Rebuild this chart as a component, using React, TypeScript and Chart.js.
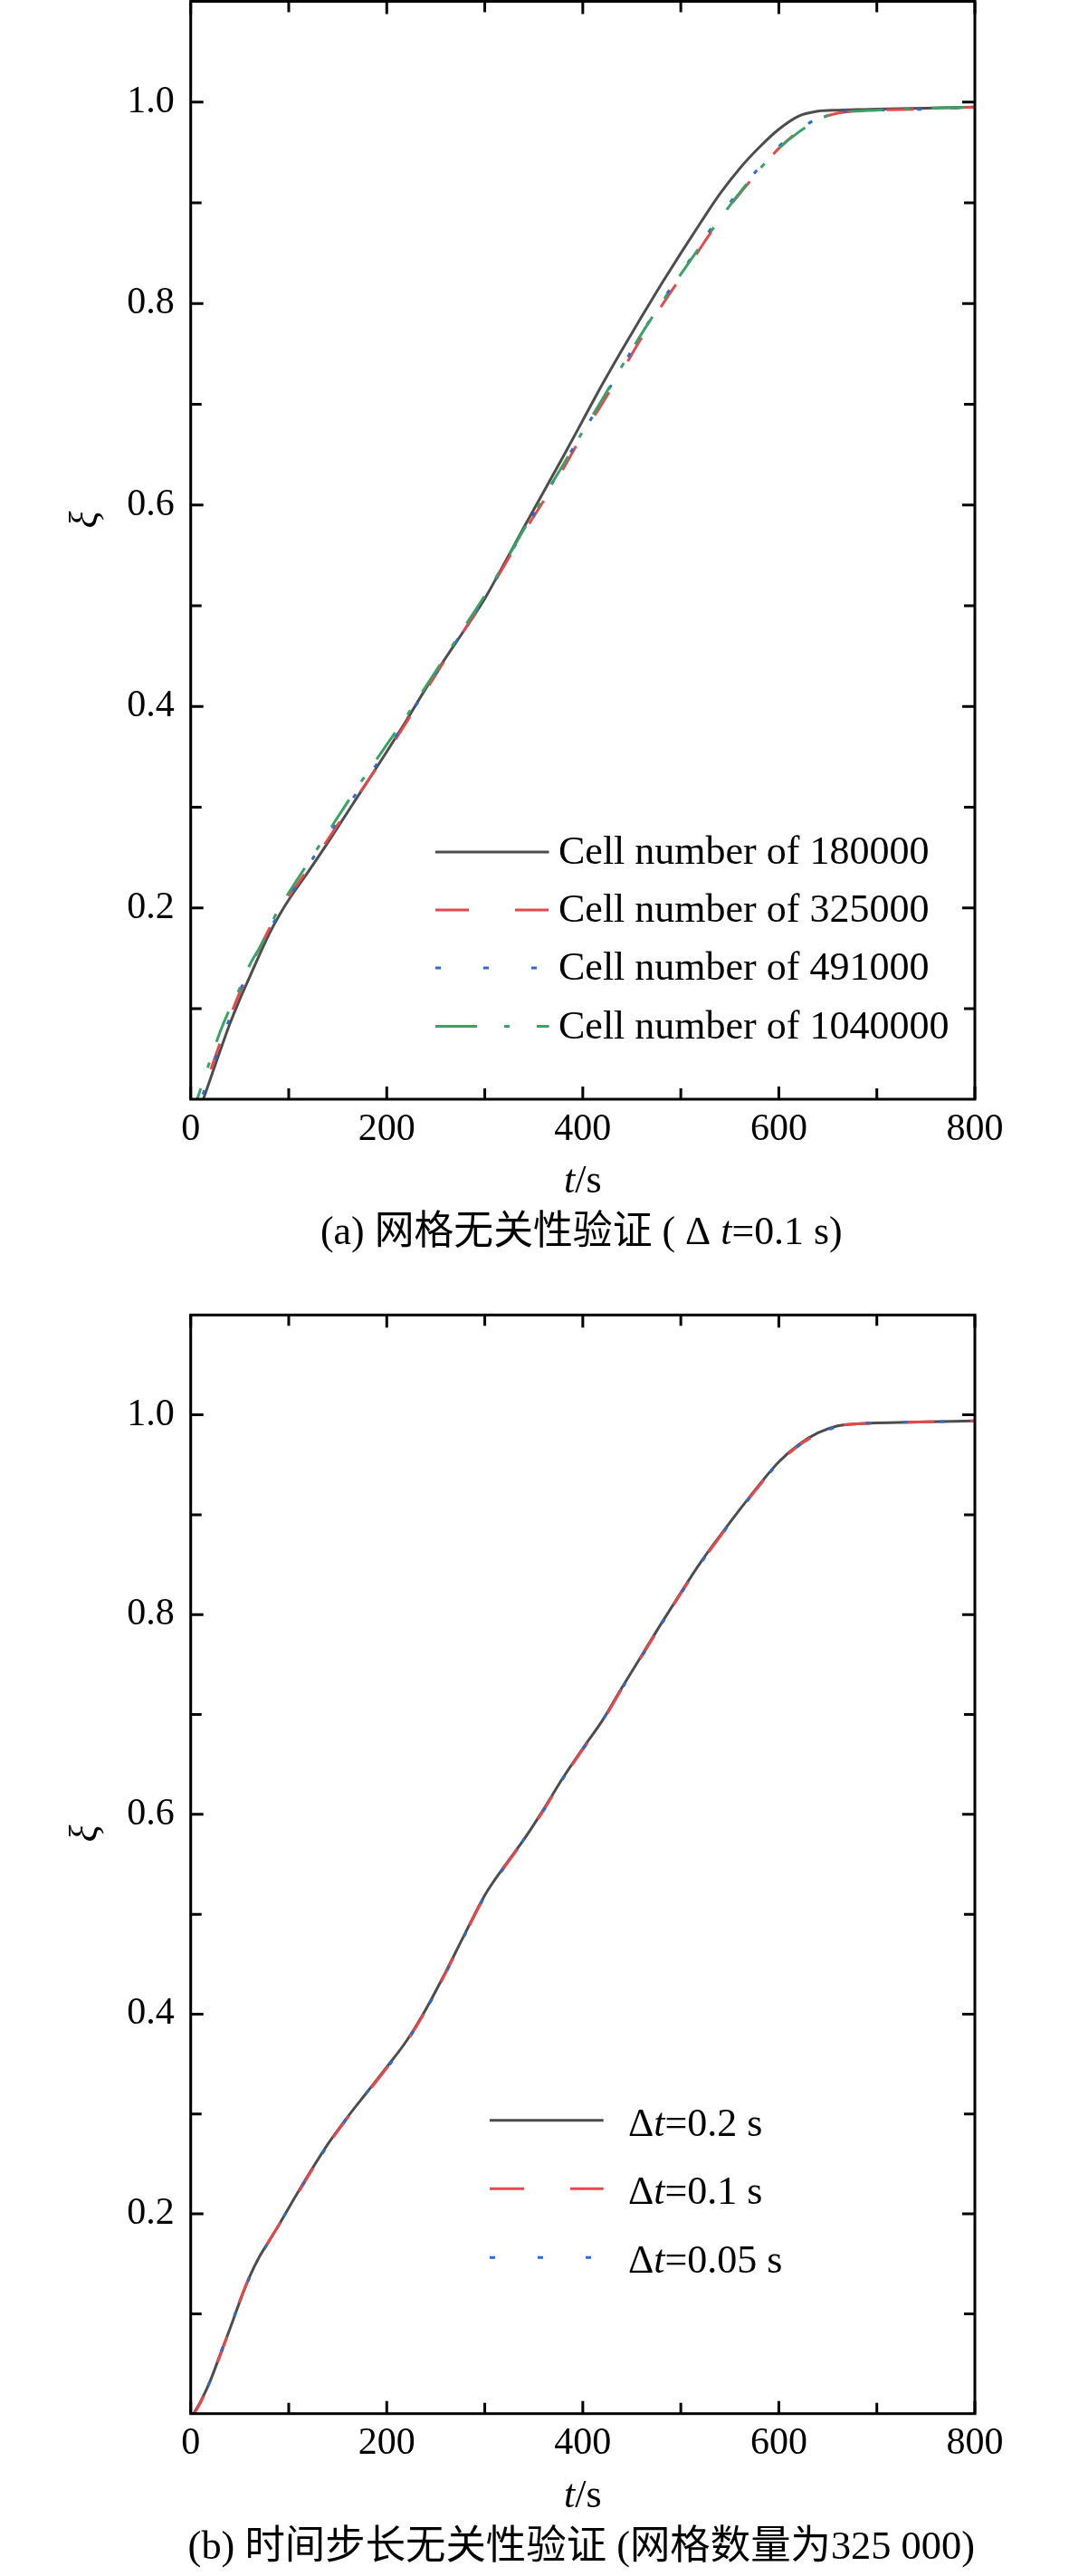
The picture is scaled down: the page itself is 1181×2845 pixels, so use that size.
import React, { useEffect, useRef } from "react";
import { Chart, registerables } from "chart.js";
Chart.register(...registerables);

// ---------- data ----------
const tValues = [0, 10, 20, 30, 40, 50, 60, 70, 80, 90, 100, 120, 140, 160, 180, 200, 220, 240, 260, 280, 300, 320, 340, 360, 380, 400, 420, 440, 460, 480, 500, 520, 540, 560, 580, 600, 620, 640, 660, 680, 700, 750, 800];

// (a) grid independence
const cell180000 = [-0.026, 0.002, 0.03, 0.058, 0.085, 0.109, 0.131, 0.153, 0.174, 0.192, 0.208, 0.236, 0.265, 0.295, 0.325, 0.355, 0.386, 0.418, 0.448, 0.477, 0.507, 0.542, 0.578, 0.613, 0.648, 0.684, 0.72, 0.754, 0.787, 0.819, 0.85, 0.88, 0.909, 0.934, 0.955, 0.973, 0.986, 0.991, 0.992, 0.9925, 0.993, 0.994, 0.995];
const cell325000 = [-0.02, 0.008, 0.038, 0.066, 0.092, 0.116, 0.138, 0.159, 0.179, 0.196, 0.211, 0.239, 0.268, 0.297, 0.325, 0.354, 0.384, 0.416, 0.447, 0.477, 0.507, 0.54, 0.573, 0.604, 0.636, 0.67, 0.701, 0.733, 0.766, 0.797, 0.826, 0.855, 0.884, 0.909, 0.932, 0.954, 0.971, 0.983, 0.989, 0.991, 0.992, 0.993, 0.995];
const cell491000 = [-0.02, 0.008, 0.036, 0.064, 0.091, 0.117, 0.14, 0.16, 0.178, 0.194, 0.21, 0.242, 0.272, 0.301, 0.329, 0.357, 0.386, 0.417, 0.448, 0.478, 0.508, 0.541, 0.575, 0.607, 0.64, 0.672, 0.704, 0.737, 0.77, 0.801, 0.83, 0.859, 0.887, 0.912, 0.935, 0.956, 0.972, 0.984, 0.99, 0.991, 0.992, 0.993, 0.995];
const cell1040000 = [-0.01, 0.02, 0.049, 0.077, 0.1, 0.12, 0.143, 0.16, 0.179, 0.2, 0.215, 0.245, 0.275, 0.305, 0.334, 0.362, 0.39, 0.42, 0.45, 0.48, 0.51, 0.542, 0.576, 0.608, 0.64, 0.673, 0.705, 0.738, 0.77, 0.8, 0.829, 0.857, 0.884, 0.91, 0.933, 0.954, 0.97, 0.982, 0.99, 0.991, 0.992, 0.994, 0.995];

// (b) time-step independence
const dt02 = [-0.005, 0.012, 0.033, 0.059, 0.085, 0.112, 0.137, 0.157, 0.173, 0.189, 0.206, 0.239, 0.27, 0.297, 0.322, 0.347, 0.373, 0.405, 0.442, 0.481, 0.519, 0.548, 0.575, 0.605, 0.637, 0.666, 0.694, 0.727, 0.759, 0.791, 0.822, 0.852, 0.879, 0.905, 0.93, 0.953, 0.97, 0.982, 0.989, 0.991, 0.992, 0.993, 0.994];
const dt01 = [-0.006, 0.011, 0.032, 0.058, 0.085, 0.113, 0.137, 0.156, 0.173, 0.189, 0.205, 0.238, 0.269, 0.296, 0.321, 0.346, 0.372, 0.404, 0.441, 0.48, 0.518, 0.547, 0.574, 0.604, 0.636, 0.665, 0.693, 0.726, 0.758, 0.79, 0.821, 0.851, 0.878, 0.904, 0.929, 0.952, 0.969, 0.981, 0.989, 0.991, 0.992, 0.993, 0.994];
const dt005 = [-0.005, 0.012, 0.033, 0.059, 0.086, 0.112, 0.136, 0.156, 0.173, 0.189, 0.206, 0.238, 0.269, 0.297, 0.322, 0.346, 0.372, 0.404, 0.441, 0.48, 0.518, 0.547, 0.575, 0.604, 0.636, 0.665, 0.694, 0.726, 0.758, 0.79, 0.821, 0.851, 0.878, 0.904, 0.929, 0.952, 0.969, 0.981, 0.988, 0.991, 0.992, 0.993, 0.994];

const xTickLabels = [0, 200, 400, 600, 800];
const xMinorTicks = [100, 300, 500, 700];
const yTickLabels = [0.2, 0.4, 0.6, 0.8, 1.0];
const yMinorTicks = [0.1, 0.3, 0.5, 0.7, 0.9];

const legendA = ["Cell number of 180000", "Cell number of 325000", "Cell number of 491000", "Cell number of 1040000"];
const legendB = ["0.2 s", "0.1 s", "0.05 s"];

// ---------- styles ----------
const SERIF = '"Liberation Serif", "Noto Sans CJK SC", serif';
const C_BLACK = "#4d4d4d";
const C_RED = "#e6484c";
const C_BLUE = "#2b6bd3";
const C_GREEN = "#3aa265";

type Seg = { t: string; i?: boolean };
const fnt = (size: number, italic?: boolean) => `${italic ? "italic " : ""}${size}px ${SERIF}`;

function richWidth(ctx: CanvasRenderingContext2D, segs: Seg[], size: number) {
  let w = 0;
  for (const s of segs) {
    ctx.font = fnt(size, s.i);
    w += ctx.measureText(s.t).width;
  }
  return w;
}

function drawRich(ctx: CanvasRenderingContext2D, segs: Seg[], size: number, x: number, y: number, align: "left" | "center", baseline: CanvasTextBaseline, targetW?: number) {
  const w = richWidth(ctx, segs, size);
  ctx.save();
  ctx.textBaseline = baseline;
  ctx.textAlign = "left";
  ctx.fillStyle = "#000";
  const sx = targetW ? targetW / w : 1;
  ctx.translate(x, y);
  ctx.scale(sx, 1);
  let cx = align === "center" ? -w / 2 : 0;
  for (const s of segs) {
    ctx.font = fnt(size, s.i);
    ctx.fillText(s.t, cx, 0);
    cx += ctx.measureText(s.t).width;
  }
  ctx.restore();
}

type LegendItem = { segs: Seg[]; color: string; dash: number[] };
type Spec = {
  height: number;
  padTop: number;
  padBottom: number;
  yMin: number;
  series: { data: number[]; color: string; dash: number[]; order: number }[];
  legend: LegendItem[];
  legendRows: number[];
  legendX0: number;
  legendX1: number;
  legendTextX: number;
  legendBaseOff: number;
  xTitleY: number;
  yTitleX: number;
  yTitleY: number;
  caption: Seg[];
  captionY: number;
  captionX0: number;
  captionX1: number;
};

function makeChart(canvas: HTMLCanvasElement, spec: Spec) {
  const decor = {
    id: "decor",
    afterDatasetsDraw(chart: any) {
      const ctx: CanvasRenderingContext2D = chart.ctx;
      const a = chart.chartArea;
      const xs = chart.scales.x;
      const ys = chart.scales.y;
      ctx.save();
      ctx.strokeStyle = "#000";
      ctx.lineWidth = 3;
      ctx.setLineDash([]);
      ctx.lineCap = "butt";
      ctx.beginPath();
      const xt = (v: number, len: number) => {
        const p = xs.getPixelForValue(v);
        ctx.moveTo(p, a.bottom);
        ctx.lineTo(p, a.bottom - len);
        ctx.moveTo(p, a.top);
        ctx.lineTo(p, a.top + len);
      };
      const yt = (v: number, len: number) => {
        const p = ys.getPixelForValue(v);
        ctx.moveTo(a.left, p);
        ctx.lineTo(a.left + len, p);
        ctx.moveTo(a.right, p);
        ctx.lineTo(a.right - len, p);
      };
      xTickLabels.forEach((v) => xt(v, 14));
      xMinorTicks.forEach((v) => xt(v, 12));
      yTickLabels.forEach((v) => yt(v, 14));
      yMinorTicks.forEach((v) => yt(v, 12));
      ctx.stroke();
      ctx.strokeRect(a.left, a.top, a.right - a.left, a.bottom - a.top);
      ctx.restore();

      // legend
      ctx.save();
      spec.legend.forEach((it, i) => {
        const y = spec.legendRows[i];
        ctx.strokeStyle = it.color;
        ctx.lineWidth = 3;
        ctx.setLineDash(it.dash);
        ctx.lineDashOffset = 0;
        ctx.beginPath();
        ctx.moveTo(spec.legendX0, y);
        ctx.lineTo(spec.legendX1, y);
        ctx.stroke();
        ctx.setLineDash([]);
        drawRich(ctx, it.segs, 44, spec.legendTextX, y + spec.legendBaseOff, "left", "alphabetic");
      });
      ctx.restore();

      // axis titles
      const cx = (a.left + a.right) / 2;
      drawRich(ctx, [{ t: "t", i: true }, { t: "/s" }], 44, cx, spec.xTitleY, "center", "middle");
      ctx.save();
      ctx.translate(spec.yTitleX, spec.yTitleY);
      ctx.rotate(-Math.PI / 2);
      ctx.font = fnt(44, true);
      ctx.fillStyle = "#000";
      ctx.textAlign = "center";
      ctx.textBaseline = "middle";
      ctx.fillText("ξ", 0, 0);
      ctx.restore();

      // caption
      drawRich(ctx, spec.caption, 44, (spec.captionX0 + spec.captionX1) / 2, spec.captionY, "center", "middle", spec.captionX1 - spec.captionX0);
    },
  };

  return new Chart(canvas, {
    type: "line",
    data: {
      datasets: spec.series.map((s) => ({
        data: tValues.map((t, i) => ({ x: t, y: s.data[i] })),
        borderColor: s.color,
        borderWidth: 3,
        borderDash: s.dash,
        pointRadius: 0,
        fill: false,
        cubicInterpolationMode: "monotone",
        order: s.order,
      })),
    },
    options: {
      responsive: false,
      animation: false,
      events: [],
      layout: { padding: { left: 0, right: 104, top: spec.padTop, bottom: spec.padBottom }, autoPadding: false },
      plugins: { legend: { display: false }, tooltip: { enabled: false }, title: { display: false } },
      scales: {
        x: {
          type: "linear",
          min: 0,
          max: 800,
          afterBuildTicks: (s: any) => {
            s.ticks = xTickLabels.map((v) => ({ value: v }));
          },
          afterFit: (s: any) => {
            s.height = 100;
            s.paddingLeft = 0;
            s.paddingRight = 0;
          },
          ticks: { font: { family: SERIF, size: 42, lineHeight: 1 }, color: "#000", padding: 12.5, maxRotation: 0, autoSkip: false, callback: (v: any) => String(v) },
          grid: { display: false, drawTicks: false },
          border: { display: false },
        },
        y: {
          type: "linear",
          min: spec.yMin,
          max: 1.1,
          afterBuildTicks: (s: any) => {
            s.ticks = yTickLabels.map((v) => ({ value: v }));
          },
          afterFit: (s: any) => {
            s.width = 210.7;
            s.paddingTop = 0;
            s.paddingBottom = 0;
          },
          ticks: { font: { family: SERIF, size: 42, lineHeight: 1 }, color: "#000", padding: 18, autoSkip: false, callback: (v: any) => Number(v).toFixed(1) },
          grid: { display: false, drawTicks: false },
          border: { display: false },
        },
      },
    } as any,
    plugins: [decor],
  } as any);
}

const specA: Spec = {
  height: 1400,
  padTop: 1.5,
  padBottom: 86,
  yMin: 0.01,
  series: [
    { data: cell180000, color: C_BLACK, dash: [], order: 4 },
    { data: cell325000, color: C_RED, dash: [30, 40], order: 3 },
    { data: cell491000, color: C_BLUE, dash: [5, 36], order: 2 },
    { data: cell1040000, color: C_GREEN, dash: [36, 24, 6, 24], order: 1 },
  ],
  legend: [
    { segs: [{ t: legendA[0] }], color: C_BLACK, dash: [] },
    { segs: [{ t: legendA[1] }], color: C_RED, dash: [37, 51] },
    { segs: [{ t: legendA[2] }], color: C_BLUE, dash: [6, 47] },
    { segs: [{ t: legendA[3] }], color: C_GREEN, dash: [46, 30, 6, 30] },
  ],
  legendRows: [941, 1005, 1069, 1133.5],
  legendX0: 481,
  legendX1: 606.5,
  legendTextX: 617,
  legendBaseOff: 13,
  xTitleY: 1305,
  yTitleX: 95,
  yTitleY: 574,
  caption: [{ t: "(a) 网格无关性验证 ( Δ " }, { t: "t", i: true }, { t: "=0.1 s)" }],
  captionY: 1362,
  captionX0: 354,
  captionX1: 930.6,
};

const specB: Spec = {
  height: 1445,
  padTop: 52.3,
  padBottom: 79.3,
  yMin: 0,
  series: [
    { data: dt02, color: C_BLACK, dash: [], order: 3 },
    { data: dt01, color: C_RED, dash: [30, 40], order: 2 },
    { data: dt005, color: C_BLUE, dash: [5, 36], order: 1 },
  ],
  legend: [
    { segs: [{ t: "Δ" }, { t: "t", i: true }, { t: "=" + legendB[0] }], color: C_BLACK, dash: [] },
    { segs: [{ t: "Δ" }, { t: "t", i: true }, { t: "=" + legendB[1] }], color: C_RED, dash: [38, 51] },
    { segs: [{ t: "Δ" }, { t: "t", i: true }, { t: "=" + legendB[2] }], color: C_BLUE, dash: [6, 47] },
  ],
  legendRows: [941.7, 1017.3, 1093.3],
  legendX0: 541,
  legendX1: 666.7,
  legendTextX: 694,
  legendBaseOff: 17,
  xTitleY: 1357,
  yTitleX: 95,
  yTitleY: 625,
  caption: [{ t: "(b) 时间步长无关性验证 (网格数量为325 000)" }],
  captionY: 1414,
  captionX0: 207.6,
  captionX1: 1077,
};

function Panel({ spec, top }: { spec: Spec; top: number }) {
  const ref = useRef<HTMLCanvasElement | null>(null);
  useEffect(() => {
    if (!ref.current) return;
    const ch = makeChart(ref.current, spec);
    return () => ch.destroy();
  }, [spec]);
  return (
    <canvas
      ref={ref}
      width={1181}
      height={spec.height}
      style={{ position: "absolute", left: 0, top, width: 1181, height: spec.height, display: "block" }}
    />
  );
}

export default function App() {
  return (
    <div style={{ position: "absolute", left: 0, top: 0, width: 1181, height: 2845, background: "#fff", overflow: "hidden" }}>
      <Panel spec={specA} top={0} />
      <Panel spec={specB} top={1400} />
    </div>
  );
}
